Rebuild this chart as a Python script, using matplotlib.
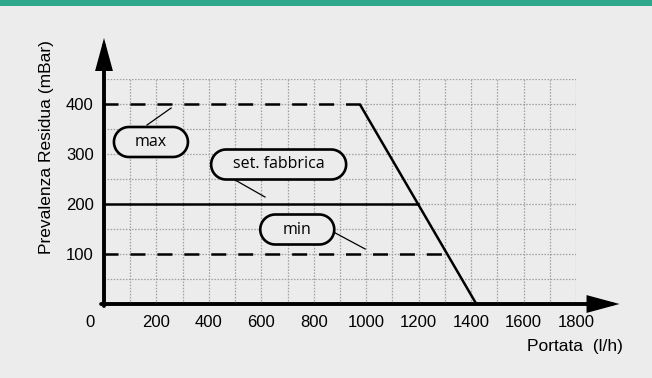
import numpy as np
import matplotlib.pyplot as plt
from matplotlib.patches import Polygon, Rectangle

plt.rcParams['font.family'] = ['Liberation Sans', 'DejaVu Sans']
plt.rcParams['lines.scale_dashes'] = False

# tick labels
x_ticks = [200, 400, 600, 800, 1000, 1200, 1400, 1600, 1800]
y_ticks = [100, 200, 300, 400]

# curves (portata l/h, prevalenza mBar)
max_flow = [0, 975]
max_p = [400, 400]
drop_flow = [975, 1420]
drop_p = [400, 0]
set_flow = [0, 1197]
set_p = [200, 200]
min_flow = [0, 1309]
min_p = [100, 100]

# callouts: text, centre (data), box width in px, leader line ends
callout_text = ['max', 'set. fabbrica', 'min']
callout_xy = [(179, 324), (666, 279), (737, 149)]
callout_w = [74, 135, 74]
leaders = [((164, 358), (256, 392)), ((500, 248), (614, 214)), ((882, 142), (996, 110))]

bg = '#ececec'
fig = plt.figure(figsize=(6.52, 3.78), dpi=100, facecolor=bg)
ax = fig.add_axes([104 / 652, 74 / 378, 472 / 652, 225 / 378])
ax.set_facecolor('none')
ax.set_xlim(0, 1800)
ax.set_ylim(0, 450)

# top band
fig.add_artist(Rectangle((0, 1 - 6 / 378), 1, 6 / 378, transform=fig.transFigure,
                         color='#2ea78c', lw=0))

ax.set_xticks(x_ticks)
ax.set_xticklabels([str(v) for v in x_ticks])
ax.set_xticks(np.arange(100, 1800, 200), minor=True)
ax.set_yticks(y_ticks)
ax.set_yticklabels([str(v) for v in y_ticks])
ax.set_yticks(np.arange(50, 451, 100), minor=True)
ax.tick_params(which='both', length=0)
ax.tick_params(axis='x', pad=8, labelsize=12)
ax.tick_params(axis='y', pad=7.5, labelsize=12)
for s in ax.spines.values():
    s.set_visible(False)
ax.grid(which='both', color='#a0a0a0', linestyle=(0, (1.1, 1.1)), linewidth=0.9)
ax.set_axisbelow(True)

dash = (0.7, (10.8, 8.6))
ax.plot(max_flow, max_p, color='black', lw=1.8, linestyle=dash, dash_capstyle='butt')
ax.plot(drop_flow, drop_p, color='black', lw=1.8, solid_capstyle='butt')
ax.plot(set_flow, set_p, color='black', lw=1.8)
ax.plot(min_flow, min_p, color='black', lw=1.8, linestyle=dash, dash_capstyle='butt')

# axes with arrows
arrow = dict(arrowstyle='-|>,head_length=17,head_width=4.6', lw=2.8, color='black',
             shrinkA=0, shrinkB=0, mutation_scale=1, joinstyle='miter')
ax.annotate('', xy=(1966, 0), xytext=(-11, 0), arrowprops=arrow, annotation_clip=False)
ax.annotate('', xy=(0, 532), xytext=(0, -4), arrowprops=arrow, annotation_clip=False)

# pixel scale of the data
p0 = ax.transData.transform((0, 0))
p1 = ax.transData.transform((100, 100))
sx = (p1[0] - p0[0]) / 100
sy = (p1[1] - p0[1]) / 100


def pill(cx, cy, w, h=30):
    r = h / 2
    a = np.linspace(-np.pi / 2, np.pi / 2, 40)
    right = np.column_stack([w / 2 - r + r * np.cos(a), r * np.sin(a)])
    left = np.column_stack([-(w / 2 - r) - r * np.cos(a), -r * np.sin(a)])
    pts = np.vstack([right, left])
    return np.column_stack([cx + pts[:, 0] / sx, cy + pts[:, 1] / sy])


for txt, (cx, cy), w, ((x0, y0), (x1, y1)) in zip(callout_text, callout_xy, callout_w, leaders):
    ax.plot([x0, x1], [y0, y1], color='black', lw=0.9, zorder=3)
    ax.add_patch(Polygon(pill(cx, cy, w), closed=True, facecolor=bg, edgecolor='black',
                         lw=1.9, zorder=4, clip_on=False))
    ax.text(cx, cy, txt, ha='center', va='center', fontsize=11.5,
            family=['Open Sans', 'DejaVu Sans'], zorder=5)

ax.annotate('0', xy=(0, 0), xytext=(-10, -8), textcoords='offset points',
            ha='center', va='top', fontsize=12, annotation_clip=False)
ax.text(1977, -84, 'Portata  (l/h)', ha='right', va='center', fontsize=12.5)
ax.text(-218, 314, 'Prevalenza Residua (mBar)', rotation=90, ha='center', va='center',
        fontsize=12.5)

fig.savefig('out.png', dpi=100, facecolor=bg)
